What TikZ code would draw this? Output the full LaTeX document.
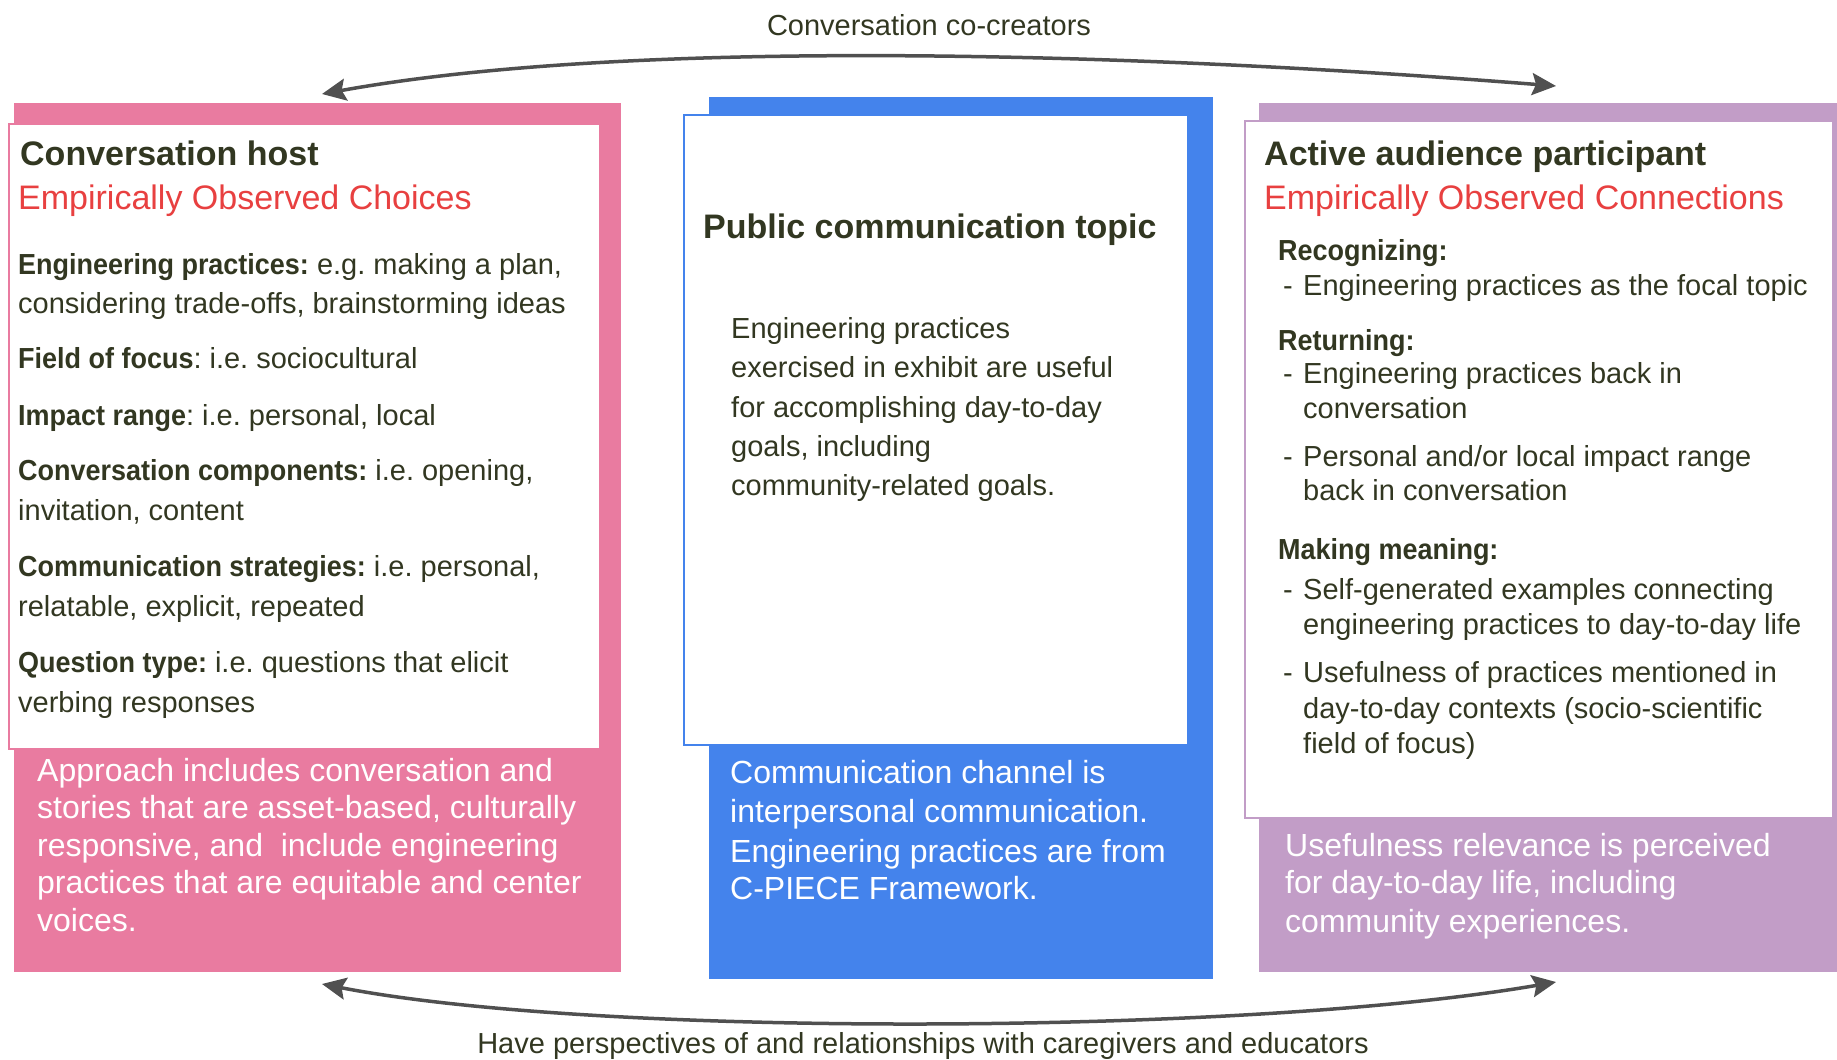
\documentclass[tikz,border=0pt]{standalone}
\usepackage{fontspec}
\setmainfont{Liberation Sans}
\newfontfamily\condbold{Liberation Sans Bold}[FakeStretch=0.93]
\newcommand{\cb}[1]{{\condbold #1}}
\frenchspacing
\usetikzlibrary{arrows.meta}
\definecolor{ink}{RGB}{50,55,33}
\definecolor{redsub}{RGB}{232,64,64}
\definecolor{pinkc}{RGB}{233,123,160}
\definecolor{bluec}{RGB}{68,131,236}
\definecolor{purc}{RGB}{194,157,199}
\definecolor{arrowc}{RGB}{80,80,80}
\tikzset{
  panel/.style={anchor=north west, inner sep=0, outer sep=0},
  txt/.style={anchor=base west, inner sep=0, text=ink, font=\fontsize{29}{35}\selectfont},
  hdr/.style={anchor=base west, inner sep=0, text=ink, font=\condbold\fontsize{29}{35}\selectfont},
  ttl/.style={anchor=base west, inner sep=0, text=ink, font=\bfseries\fontsize{34}{40}\selectfont},
  sub/.style={anchor=base west, inner sep=0, text=redsub, font=\fontsize{34}{40}\selectfont},
  wtxt/.style={anchor=base west, inner sep=0, text=white, font=\fontsize{32}{38}\selectfont},
  lbl/.style={anchor=base, inner sep=0, text=ink, font=\fontsize{29}{35}\selectfont},
  link/.style={draw=arrowc, line width=3.5pt, {Stealth[length=24pt,width=22pt,inset=4pt]}-{Stealth[length=24pt,width=22pt,inset=4pt]}}
}
\begin{document}
\begin{tikzpicture}[x=1pt,y=-1pt]
\useasboundingbox (0,0) rectangle (1837,1060);
% ---------- panels ----------
\node[panel, fill=pinkc, minimum width=607pt, minimum height=869pt] (pinkbg) at (14,103) {};
\node[panel, fill=white, draw=pinkc, line width=2pt, minimum width=591pt, minimum height=625pt] (pinkfg) at (9,124) {};
\node[panel, fill=bluec, minimum width=504pt, minimum height=882pt] (bluebg) at (709,97) {};
\node[panel, fill=white, draw=bluec, line width=2pt, minimum width=504pt, minimum height=630pt] (bluefg) at (684,115) {};
\node[panel, fill=purc, minimum width=580pt, minimum height=869pt] (purbg) at (1259,103) {};
\node[panel, fill=white, draw=purc, line width=2.5pt, minimum width=588pt, minimum height=697pt] (purfg) at (1245,121) {};
% ---------- left panel ----------
\node[ttl] (lt) at (20,165) {Conversation host};
\node[sub] (ls) at (18,209) {Empirically Observed Choices};
\node[txt] (l1) at (18,274) {\cb{Engineering practices:} e.g. making a plan,};
\node[txt] (l2) at (18,313) {considering trade-offs, brainstorming ideas};
\node[txt] (l3) at (18,368) {\cb{Field of focus}: i.e. sociocultural};
\node[txt] (l4) at (18,425) {\cb{Impact range}: i.e. personal, local};
\node[txt] (l5) at (18,480) {\cb{Conversation components:} i.e. opening,};
\node[txt] (l6) at (18,520) {invitation, content};
\node[txt] (l7) at (18,576) {\cb{Communication strategies:} i.e. personal,};
\node[txt] (l8) at (18,616) {relatable, explicit, repeated};
\node[txt] (l9) at (18,672) {\cb{Question type:} i.e. questions that elicit};
\node[txt] (l10) at (18,712) {verbing responses};
\node[wtxt] (lb1) at (37,781) {Approach includes conversation and};
\node[wtxt] (lb2) at (37,818) {stories that are asset-based, culturally};
\node[wtxt] (lb3) at (37,856) {responsive, and\ \ include engineering};
\node[wtxt] (lb4) at (37,893) {practices that are equitable and center};
\node[wtxt] (lb5) at (37,931) {voices.};
% ---------- centre panel ----------
\node[ttl] (ct) at (703,238) {Public communication topic};
\node[txt] (c1) at (731,338) {Engineering practices};
\node[txt] (c2) at (731,377) {exercised in exhibit are useful};
\node[txt] (c3) at (731,417) {for accomplishing day-to-day};
\node[txt] (c4) at (731,456) {goals, including};
\node[txt] (c5) at (731,495) {community-related goals.};
\node[wtxt] (cb1) at (730,783) {Communication channel is};
\node[wtxt] (cb2) at (730,822) {interpersonal communication.};
\node[wtxt] (cb3) at (730,862) {Engineering practices are from};
\node[wtxt] (cb4) at (730,899) {C-PIECE Framework.};
% ---------- right panel ----------
\node[ttl] (rt) at (1264,165) {Active audience participant};
\node[sub] (rs) at (1264,209) {Empirically Observed Connections};
\node[hdr] (rh1) at (1278,260) {Recognizing:};
\node[txt] (rd1) at (1283,295) {-};
\node[txt] (r1) at (1303,295) {Engineering practices as the focal topic};
\node[hdr] (rh2) at (1278,350) {Returning:};
\node[txt] (rd2) at (1283,383) {-};
\node[txt] (r2) at (1303,383) {Engineering practices back in};
\node[txt] (r3) at (1303,418) {conversation};
\node[txt] (rd3) at (1283,466) {-};
\node[txt] (r4) at (1303,466) {Personal and/or local impact range};
\node[txt] (r5) at (1303,500) {back in conversation};
\node[hdr] (rh3) at (1278,559) {Making meaning:};
\node[txt] (rd4) at (1283,599) {-};
\node[txt] (r6) at (1303,599) {Self-generated examples connecting};
\node[txt] (r7) at (1303,634) {engineering practices to day-to-day life};
\node[txt] (rd5) at (1283,682) {-};
\node[txt] (r8) at (1303,682) {Usefulness of practices mentioned in};
\node[txt] (r9) at (1303,718) {day-to-day contexts (socio-scientific};
\node[txt] (r10) at (1303,753) {field of focus)};
\node[wtxt] (rb1) at (1285,856) {Usefulness relevance is perceived};
\node[wtxt] (rb2) at (1285,893) {for day-to-day life, including};
\node[wtxt] (rb3) at (1285,932) {community experiences.};
% ---------- connectors ----------
\node[lbl] (toplbl) at (929,35) {Conversation co-creators};
\node[lbl] (botlbl) at (923,1053) {Have perspectives of and relationships with caregivers and educators};
\coordinate (tl) at (322,94);
\coordinate (tr) at (1556,86);
\coordinate (bl) at (322,984);
\coordinate (br) at (1556,982);
\draw[link] (tl) .. controls (620,40) and (1100,50) .. (tr);
\draw[link] (bl) .. controls (600,1038) and (1250,1035) .. (br);
\end{tikzpicture}
\end{document}
